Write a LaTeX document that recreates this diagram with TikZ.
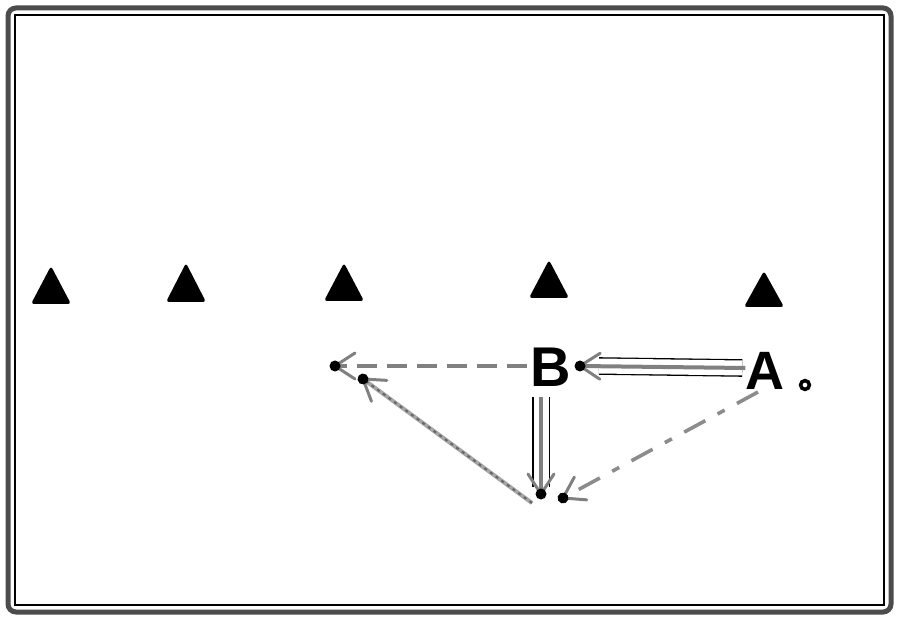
\documentclass[tikz,border=0pt]{standalone}
\usepackage{fontspec}
\setmainfont{Liberation Sans}
\usetikzlibrary{decorations.markings}
\begin{document}
\begin{tikzpicture}[x=1pt,y=-1pt,
  cone/.style={fill=black, rounded corners=3pt},
  lab/.style={inner sep=0pt, text height=40pt, text depth=0pt},
  runline/.style={draw=gray, line width=4pt},
  dblline/.style={draw=black, line width=1.3pt, double=white, double distance=15pt},
  passline/.style={draw=gray!70, line width=4pt},
  passdots/.style={draw=black!60, line width=2pt, dash pattern=on 3pt off 4pt},
  dribline/.style={draw=gray, line width=3.6pt, dash pattern=on 20pt off 10pt},
  dashdotline/.style={draw=gray!90, line width=3.6pt, dash pattern=on 24pt off 14pt on 8pt off 14pt},
  tipend/.style={decorate, decoration={markings, mark=at position 1 with {
      \draw[gray, line width=3pt, line cap=round] (0,0) -- (-20pt,13pt) (0,0) -- (-20pt,-13pt);
      \fill[black] (0,0) circle (5.5pt);}}}
]
\useasboundingbox (0,0) rectangle (900,620);
% frame
\draw[gray!60!black, line width=5pt, rounded corners=8pt] (8,8) rectangle (891,612);
\draw[black, line width=1.8pt] (15,15) rectangle (884,605);
% cones
\fill[cone] (31,304) -- (51,266) -- (71,304) -- cycle;
\fill[cone] (166,302) -- (186,263) -- (206,302) -- cycle;
\fill[cone] (324,301) -- (344,263) -- (364,301) -- cycle;
\fill[cone] (529,298) -- (549,260) -- (569,298) -- cycle;
\fill[cone] (744,307) -- (764,271) -- (784,307) -- cycle;
% labels
\node[lab, font=\fontsize{56}{56}\selectfont\bfseries] (B) at (551,366) {B};
\node[lab, text height=42pt, font=\fontsize{54}{54}\selectfont\bfseries] (A) at (765,368) {A};
\draw[black, line width=3.5pt, fill=white] (805,385) circle (4.4pt) coordinate (ball);
% end points
\coordinate (Bdot) at (580,366);
\coordinate (Cdot) at (541,494);
\coordinate (Cend) at (541,487);
\coordinate (Cstart) at (532,503);
\coordinate (Ldot) at (335,366);
\coordinate (Pdot) at (363,379);
\coordinate (Ddot) at (563,498);
\coordinate (Astart) at (758,392);
\coordinate (Bbot) at (541,397);
% A -> B double line
\draw[dblline] ([xshift=-3pt]A.west) -- ([xshift=19pt]Bdot);
\draw[runline] (A.west) -- (Bdot);
\path[tipend] (A.west) -- (Bdot);
% B -> down double line
\draw[dblline] (Bbot) -- (Cend);
\draw[runline] (Bbot) -- (Cdot);
\path[tipend] (Bbot) -- (Cdot);
% B -> left dashed
\draw[dribline] ([xshift=-4pt]B.west) -- (Ldot);
\path[tipend] (B.west) -- (Ldot);
% diagonal pass
\draw[passline] (Cstart) -- (Pdot);
\draw[passdots] (Cstart) -- (Pdot);
\path[tipend] (Cstart) -- (Pdot);
% A -> dashed to bottom
\draw[dashdotline] (Astart) -- (Ddot);
\path[tipend] (Astart) -- (Ddot);
\end{tikzpicture}
\end{document}
